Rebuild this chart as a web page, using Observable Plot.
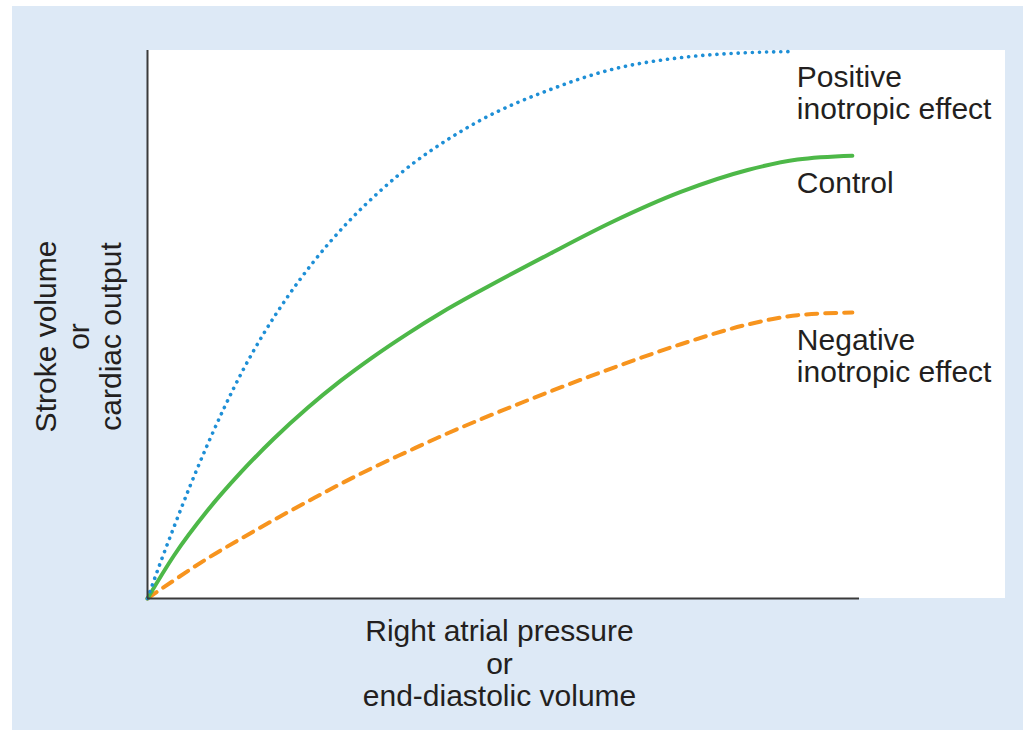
<!DOCTYPE html>
<html>
<head>
<meta charset="utf-8">
<script src="https://cdn.jsdelivr.net/npm/d3@7"></script>
<script src="https://cdn.jsdelivr.net/npm/@observablehq/plot@0.6"></script>
<style>
  html, body { margin: 0; padding: 0; background: #ffffff; }
  #wrap { position: relative; width: 1023px; height: 730px; overflow: hidden; }
  #bg { position: absolute; left: 12px; top: 6px; right: 0; bottom: 0; background: #dde9f6; }
  #panel { position: absolute; left: 147px; top: 50px; width: 858px; height: 548px; background: #ffffff; }
  #chart { position: absolute; left: 0; top: 0; }
  #chart svg { background: transparent; }
</style>
</head>
<body>
<div id="wrap">
  <div id="bg"></div>
  <div id="panel"></div>
  <div id="chart"></div>
</div>
<script>
// Values (x: right atrial pressure, y: stroke volume; arbitrary 0–100 units)
const positiveX = [0, 1.8, 3.7, 6.0, 8.4, 10.7, 13.5, 16.3, 19.7, 23.3, 28.1, 32.7, 37.4, 42.1, 46.8, 56.2, 65.4, 74.9, 84.3, 90.3];
const positiveY = [0, 6.5, 13.0, 20.6, 28.0, 34.6, 41.9, 48.3, 55.1, 61.4, 68.6, 74.4, 79.5, 83.7, 87.3, 92.7, 96.6, 98.7, 99.6, 99.8];

const controlX = [0, 3.7, 8.4, 13.1, 17.7, 22.5, 27.1, 31.7, 36.5, 41.2, 46.8, 56.2, 65.4, 74.9, 84.3, 91.3, 99.0];
const controlY = [0, 7.8, 16.0, 23.0, 29.1, 34.8, 39.7, 44.1, 48.3, 52.1, 56.2, 62.7, 68.8, 74.2, 78.2, 80.1, 80.8];

const negativeX = [0, 3.7, 8.4, 13.1, 17.7, 22.5, 27.1, 31.7, 36.5, 41.2, 46.8, 56.2, 65.4, 74.9, 84.3, 91.3, 99.0];
const negativeY = [0, 3.3, 7.3, 10.9, 14.3, 17.7, 20.9, 23.9, 26.8, 29.6, 32.7, 37.6, 42.1, 46.4, 50.0, 51.7, 52.2];

const seriesLabels = ["Positive\ninotropic effect", "Control", "Negative\ninotropic effect"];
const labelX = [91.2, 91.2, 91.2];
const labelY = [92.3, 75.9, 44.3];

const xAxisLabel = "Right atrial pressure\nor\nend-diastolic volume";
const yAxisLabel = "Stroke volume\nor\ncardiac output";

const toPoints = (xs, ys) => xs.map((x, i) => ({x, y: ys[i]}));
const positive = toPoints(positiveX, positiveY);
const control = toPoints(controlX, controlY);
const negative = toPoints(negativeX, negativeY);
const labels = seriesLabels.map((t, i) => ({text: t, x: labelX[i], y: labelY[i]}));

const FONT = "'Liberation Sans', Arial, Helvetica, sans-serif";
const TEXT = "#231f20";
const FS = 30;
const LH = 1.08;

const chart = Plot.plot({
  width: 1023,
  height: 730,
  marginLeft: 147,
  marginRight: 164,
  marginTop: 50,
  marginBottom: 132,
  style: {fontFamily: FONT, background: "transparent", overflow: "visible"},
  x: {domain: [0, 100], axis: null},
  y: {domain: [0, 100], axis: null},
  marks: [
    Plot.line(negative, {x: "x", y: "y", curve: "monotone-x", stroke: "#f7941e", strokeWidth: 4, strokeDasharray: "11 8"}),
    Plot.line(control, {x: "x", y: "y", curve: "monotone-x", stroke: "#4db848", strokeWidth: 4}),
    Plot.line(positive, {x: "x", y: "y", curve: "monotone-x", stroke: "#1e8fd6", strokeWidth: 3.6, strokeDasharray: "0.1 7", strokeLinecap: "round"}),
    Plot.ruleY([0], {stroke: "#3a3a3a", strokeWidth: 2}),
    Plot.ruleX([0], {stroke: "#3a3a3a", strokeWidth: 2}),
    Plot.text(labels, {x: "x", y: "y", text: "text", textAnchor: "start", lineAnchor: "middle", fontSize: FS, lineHeight: LH, fill: TEXT, fontFamily: FONT}),
    Plot.text([xAxisLabel], {frameAnchor: "bottom", text: d => d, textAnchor: "middle", lineAnchor: "middle", dy: 65, dx: -4, fontSize: FS, lineHeight: LH, fill: TEXT, fontFamily: FONT}),
    Plot.text([yAxisLabel], {frameAnchor: "left", text: d => d, rotate: -90, textAnchor: "middle", lineAnchor: "middle", dx: -69, dy: 12, fontSize: FS, lineHeight: LH, fill: TEXT, fontFamily: FONT})
  ]
});
document.getElementById("chart").appendChild(chart);
</script>
</body>
</html>
